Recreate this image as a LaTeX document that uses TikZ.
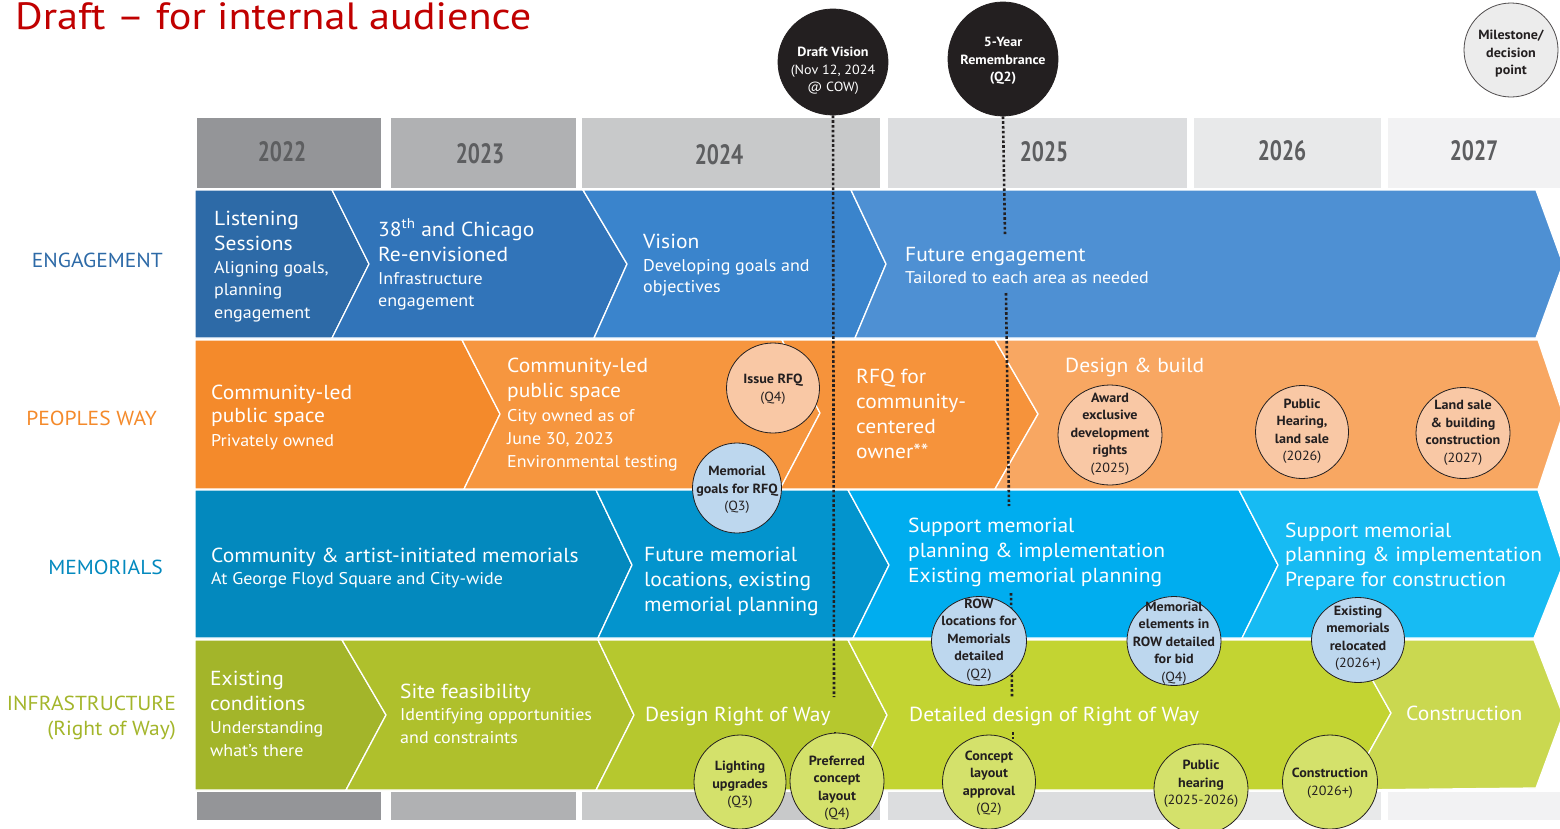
\documentclass[tikz,border=0pt]{standalone}
\usepackage{fontspec}
\usepackage{graphicx}
\setmainfont{PT Sans}[FakeStretch=1.06]
\usetikzlibrary{shapes.geometric}
\newcommand\Hfont{\fontsize{20.3}{25}\selectfont}
\newcommand\Sfont{\fontsize{17}{23}\selectfont}
\newcommand\Cfont{\fontsize{13.3}{17.5}\selectfont}
\newcommand\Lfont{\fontsize{20.3}{25}\selectfont}
\newcommand\Yfont{\fontsize{28}{30}\bfseries\selectfont}
\definecolor{eA}{HTML}{2D6AA7}
\definecolor{eB}{HTML}{3174B9}
\definecolor{eC}{HTML}{3A84CC}
\definecolor{eD}{HTML}{4E90D3}
\definecolor{pA}{HTML}{F48A2B}
\definecolor{pB}{HTML}{F6963F}
\definecolor{pC}{HTML}{F6933B}
\definecolor{pD}{HTML}{F8A762}
\definecolor{mA}{HTML}{0389BE}
\definecolor{mB}{HTML}{0394CD}
\definecolor{mC}{HTML}{00ADEF}
\definecolor{mD}{HTML}{17BBF3}
\definecolor{iA}{HTML}{A3B52A}
\definecolor{iB}{HTML}{AFC02C}
\definecolor{iC}{HTML}{B6C82E}
\definecolor{iD}{HTML}{C3D432}
\definecolor{iE}{HTML}{CAD850}
\definecolor{yA}{HTML}{949598}
\definecolor{yB}{HTML}{B0B1B3}
\definecolor{yC}{HTML}{C8C9CA}
\definecolor{yD}{HTML}{DCDDDF}
\definecolor{yE}{HTML}{E8E9EA}
\definecolor{yF}{HTML}{F2F2F3}
\definecolor{ytxt}{HTML}{5D5E60}
\definecolor{peach}{HTML}{F9C8A5}
\definecolor{lblue}{HTML}{BDD7EE}
\definecolor{lgreen}{HTML}{D4E16B}
\definecolor{legendfill}{HTML}{ECECEC}
\definecolor{dk}{HTML}{231F20}
\definecolor{draftred}{HTML}{C00000}
\begin{document}
\begin{tikzpicture}[x=1pt,y=-1pt,
  seg/.style={draw=white,line width=1.3pt,line join=miter},
  blk/.style={anchor=base west,inner sep=0,align=left,text=white,font=\Hfont},
  ms/.style={ellipse,draw=dk,line width=0.8pt,inner sep=0},
  ctext/.style={align=center,inner sep=0,font=\Cfont,text=dk},
  yr/.style={inner sep=0,font=\Yfont,text=ytxt},
  rowlab/.style={anchor=base east,inner sep=0,font=\Lfont,align=right},
  dotline/.style={draw=dk,line width=2.6pt,dash pattern=on 2.6pt off 2.2pt}]
\useasboundingbox (0,0) rectangle (1560,828);
\clip (0,0) rectangle (1560,828);
% year columns
\fill[yA] (197,118) rectangle (381,188);
\fill[yB] (391,118) rectangle (576,188);
\fill[yC] (582,118) rectangle (880,188);
\fill[yD] (888,118) rectangle (1187,188);
\fill[yE] (1194,118) rectangle (1381,188);
\fill[yF] (1388,118) rectangle (1560,188);
\fill[yA] (197,792) rectangle (381,820);
\fill[yB] (391,792) rectangle (576,820);
\fill[yC] (582,792) rectangle (880,820);
\fill[yD] (888,792) rectangle (1187,820);
\fill[yE] (1194,792) rectangle (1381,820);
\fill[yF] (1388,792) rectangle (1560,820);
\node[yr] (y22) at (282,152) {\scalebox{0.72}[1]{2022}};
\node[yr] (y23) at (480,154) {\scalebox{0.72}[1]{2023}};
\node[yr] (y24) at (719,155) {\scalebox{0.72}[1]{2024}};
\node[yr] (y25) at (1044,152) {\scalebox{0.72}[1]{2025}};
\node[yr] (y26) at (1282,151) {\scalebox{0.72}[1]{2026}};
\node[yr] (y27) at (1474,151) {\scalebox{0.72}[1]{2027}};
% engagement row
\path[seg,fill=eA] (195,190)--(332,190)--(369,264)--(332,338)--(195,338)--cycle;
\path[seg,fill=eB] (332,190)--(583,190)--(627,264)--(594,338)--(332,338)--(369,264)--cycle;
\path[seg,fill=eC] (583,190)--(851,190)--(886,264)--(855,338)--(594,338)--(627,264)--cycle;
\path[seg,fill=eD] (851,190)--(1536,190)--(1563,264)--(1536,338)--(855,338)--(886,264)--cycle;
% peoples way row
\path[seg,fill=pA] (195,340)--(462,340)--(500,414)--(464,489)--(195,489)--cycle;
\path[seg,fill=pB] (462,340)--(782,340)--(820,413)--(780,489)--(464,489)--(500,414)--cycle;
\path[seg,fill=pC] (782,340)--(995,340)--(1038,414)--(995,489)--(780,489)--(820,413)--cycle;
\path[seg,fill=pD] (995,340)--(1538,340)--(1563,414)--(1538,489)--(995,489)--(1038,414)--cycle;
% memorials row
\path[seg,fill=mA] (195,490)--(596,490)--(632,565)--(598,638)--(195,638)--cycle;
\path[seg,fill=mB] (596,490)--(848,490)--(889,565)--(853,638)--(598,638)--(632,565)--cycle;
\path[seg,fill=mC] (848,490)--(1239,490)--(1278,565)--(1242,638)--(853,638)--(889,565)--cycle;
\path[seg,fill=mD] (1239,490)--(1538,490)--(1563,565)--(1534,638)--(1242,638)--(1278,565)--cycle;
% infrastructure row
\path[seg,fill=iA] (195,640)--(342,640)--(386,715)--(346,790)--(195,790)--cycle;
\path[seg,fill=iB] (342,640)--(598,640)--(634,715)--(596,790)--(346,790)--(386,715)--cycle;
\path[seg,fill=iC] (598,640)--(848,640)--(887,715)--(852,790)--(596,790)--(634,715)--cycle;
\path[seg,fill=iD] (848,640)--(1350,640)--(1391,713)--(1348,790)--(852,790)--(887,715)--cycle;
\path[seg,fill=iE] (1350,640)--(1534,640)--(1563,715)--(1536,788)--(1348,790)--(1391,713)--cycle;
% title and row labels
\node[anchor=base west,inner sep=0,font=\fontsize{38}{40}\selectfont,text=draftred] (title) at (15,29) {\scalebox{1.05}[1]{Draft – for internal audience}};
\node[rowlab,text=eA] (lab1) at (163,267) {ENGAGEMENT};
\node[rowlab,text=pA] (lab2) at (157,425) {PEOPLES WAY};
\node[rowlab,text=mA] (lab3) at (163,574) {MEMORIALS};
\node[rowlab,text=iA] (lab4) at (176,735) {INFRASTRUCTURE\\(Right of Way)};
% milestone circles at top
\node[ms,fill=dk,minimum width=110,minimum height=106] (dv) at (833,62) {};
\node[ms,fill=dk,minimum width=110,minimum height=114] (yrm) at (1003,59) {};
\node[ms,fill=legendfill,draw=dk!80,minimum width=94,minimum height=94] (leg) at (1511,50) {};
\node[ctext,text=white] (dvt) at (833,71) {{\bfseries Draft Vision}\\(Nov 12, 2024\\@ COW)};
\node[ctext,text=white,font=\Cfont\bfseries] (yrmt) at (1003,61) {5-Year\\Remembrance\\(Q2)};
\node[ctext,font=\Cfont\bfseries] (legt) at (1511,54) {Milestone/\\decision\\point};
% dotted lines
\coordinate (d1a) at (834,697);
\coordinate (d1b) at (835,732);
\coordinate (d1c) at (835,760);
\coordinate (d2a) at (1005,236);
\coordinate (d2b) at (1006,293);
\coordinate (d2c) at (1009,506);
\coordinate (d2d) at (1011,593);
\coordinate (d2e) at (1012,697);
\coordinate (d2f) at (1013,732);
\coordinate (d2g) at (1013,752);
\draw[dotline] (dv.south) -- (d1a);
\draw[dotline] (d1b) -- (d1c);
\draw[dotline] (yrm.south) -- (d2a);
\draw[dotline] (d2b) -- (d2c);
\draw[dotline] (d2d) -- (d2e);
\draw[dotline] (d2f) -- (d2g);
% segment texts (anchor = baseline of the last line)
\node[blk] (t11) at (214,318) {Listening\\Sessions\\[-2pt]{\Sfont Aligning goals,}\\[-2.5pt]{\Sfont planning}\\[-2.5pt]{\Sfont engagement}};
\node[blk] (t12) at (378,306) {38\textsuperscript{th} and Chicago\\Re-envisioned\\[-2pt]{\Sfont Infrastructure}\\[-3pt]{\Sfont engagement}};
\node[blk] (t13) at (643,292) {Vision\\[-2pt]{\Sfont Developing goals and}\\[-4pt]{\Sfont objectives}};
\node[blk] (t14) at (905,283) {Future engagement\\[-3pt]{\Sfont Tailored to each area as needed}};
\node[blk] (t21) at (211,446) {Community-led\\[-2pt]public space\\[-1pt]{\Sfont Privately owned}};
\node[blk] (t22) at (507,467) {Community-led\\public space\\[-1pt]{\Sfont City owned as of}\\[-2pt]{\Sfont June 30, 2023}\\[-2pt]{\Sfont Environmental testing}};
\node[blk] (t23) at (856,458) {RFQ for\\community-\\centered\\owner**};
\node[blk] (t24) at (1065,372) {Design \& build};
\node[blk] (t31) at (211,584) {Community \& artist-initiated memorials\\[-3pt]{\Sfont At George Floyd Square and City-wide}};
\node[blk] (t32) at (644,611) {Future memorial\\locations, existing\\memorial planning};
\node[blk] (t33) at (908,582) {Support memorial\\planning \& implementation\\Existing memorial planning};
\node[blk] (t34) at (1285,586) {Support memorial\\[-1pt]planning \& implementation\\Prepare for construction};
\node[blk] (t41) at (210,756) {Existing\\conditions\\[-2pt]{\Sfont Understanding}\\[-2pt]{\Sfont what’s there}};
\node[blk] (t42) at (400,743) {Site feasibility\\[-3pt]{\Sfont Identifying opportunities}\\[-2pt]{\Sfont and constraints}};
\node[blk] (t43) at (645,721) {Design Right of Way};
\node[blk] (t44) at (909,721) {Detailed design of Right of Way};
\node[blk] (t45) at (1406,720) {Construction};
% peoples way milestones
\node[ms,fill=peach,minimum width=93,minimum height=90] (irfq) at (773,388) {};
\node[ctext] (irfqt) at (773,389) {{\bfseries Issue RFQ}\\(Q4)};
\node[ms,fill=lblue,minimum width=89,minimum height=90] (mgoal) at (737,488) {};
\node[ctext] (mgoalt) at (737,490) {{\bfseries Memorial}\\{\bfseries goals for RFQ}\\(Q3)};
\node[ms,fill=peach,minimum width=104,minimum height=100] (award) at (1110,435) {};
\node[ctext] (awardt) at (1110,434) {{\bfseries Award}\\{\bfseries exclusive}\\{\bfseries development}\\{\bfseries rights}\\(2025)};
\node[ms,fill=peach,minimum width=93,minimum height=93] (phear) at (1302,432) {};
\node[ctext] (pheart) at (1302,431) {{\bfseries Public}\\{\bfseries Hearing,}\\{\bfseries land sale}\\(2026)};
\node[ms,fill=peach,minimum width=94,minimum height=91] (lsale) at (1463,433) {};
\node[ctext] (lsalet) at (1463,433) {{\bfseries Land sale}\\{\bfseries \& building}\\{\bfseries construction}\\(2027)};
% memorial milestones
\node[ms,fill=lblue,minimum width=95,minimum height=89] (rowloc) at (979,641) {};
\node[ctext] (rowloct) at (979,640) {{\bfseries ROW}\\{\bfseries locations for}\\{\bfseries Memorials}\\{\bfseries detailed}\\(Q2)};
\node[ms,fill=lblue,minimum width=94,minimum height=89] (memel) at (1174,641) {};
\node[ctext] (memelt) at (1174,643) {{\bfseries Memorial}\\{\bfseries elements in}\\{\bfseries ROW detailed}\\{\bfseries for bid}\\(Q4)};
\node[ms,fill=lblue,minimum width=93,minimum height=85] (exmem) at (1358,640) {};
\node[ctext] (exmemt) at (1358,638) {{\bfseries Existing}\\{\bfseries memorials}\\{\bfseries relocated}\\(2026+)};
% infrastructure milestones
\node[ms,fill=lgreen,minimum width=92,minimum height=94] (light) at (740,782) {};
\node[ctext] (lightt) at (740,785) {{\bfseries Lighting}\\{\bfseries upgrades}\\(Q3)};
\node[ms,fill=lgreen,minimum width=94,minimum height=96] (pref) at (837,781) {};
\node[ctext] (preft) at (837,788) {{\bfseries Preferred}\\{\bfseries concept}\\{\bfseries layout}\\(Q4)};
\node[ms,fill=lgreen,minimum width=93,minimum height=94] (concl) at (989,782) {};
\node[ctext] (conclt) at (989,783) {{\bfseries Concept}\\{\bfseries layout}\\{\bfseries approval}\\(Q2)};
\node[ms,fill=lgreen,minimum width=94,minimum height=90] (phear2) at (1201,789) {};
\node[ctext] (phear2t) at (1201,784) {{\bfseries Public}\\{\bfseries hearing}\\(2025-2026)};
\node[ms,fill=lgreen,minimum width=95,minimum height=94] (constr) at (1330,782) {};
\node[ctext] (constrt) at (1330,783) {{\bfseries Construction}\\(2026+)};
\end{tikzpicture}
\end{document}
